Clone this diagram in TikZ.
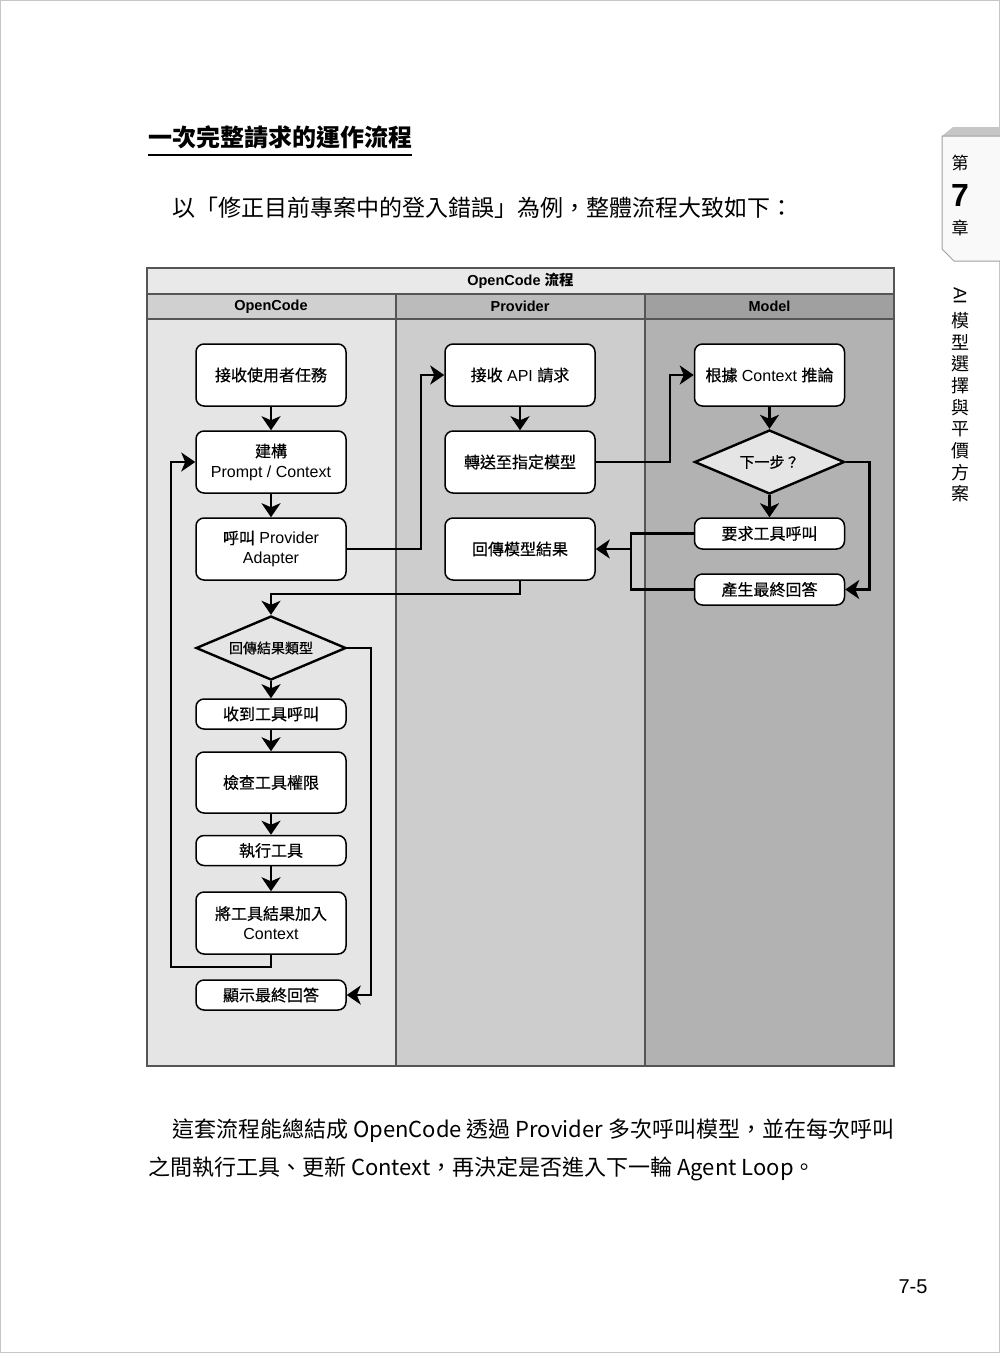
\documentclass[tikz,border=0pt]{standalone}
\usepackage{fontspec}
\setmainfont{Liberation Sans}
\newfontfamily\cjk{Noto Sans CJK TC}
\newfontfamily\cjkn{Noto Sans CJK TC}[FakeBold=0.5]
\usetikzlibrary{shapes.geometric,arrows.meta}
\newcommand\myfs[1]{\fontsize{#1pt}{#1pt}\selectfont}
\newcommand\nodefont{\fontsize{16pt}{20pt}\selectfont}
\newcommand\zh[1]{{\cjkn #1}}
\definecolor{laneA}{HTML}{E5E5E5}
\definecolor{laneB}{HTML}{CDCDCD}
\definecolor{laneC}{HTML}{B2B2B2}
\definecolor{hdrT}{HTML}{E9E9E9}
\definecolor{hdrA}{HTML}{D0D0D0}
\definecolor{hdrB}{HTML}{BBBBBB}
\definecolor{hdrC}{HTML}{A0A0A0}
\definecolor{diaF}{HTML}{E5E5E5}
\definecolor{frameC}{HTML}{555555}
\begin{document}
\begin{tikzpicture}[x=1pt,y=-1pt,
  box/.style={draw, line width=1.5pt, rounded corners=8pt, fill=white,
    minimum width=150pt, minimum height=62pt, align=center, font=\nodefont, inner sep=2pt},
  sbox/.style={box, minimum height=30pt},
  dia/.style={draw, diamond, fill=diaF, line width=2.4pt, minimum width=150pt,
    minimum height=64pt, inner sep=0pt, aspect=2.34, align=center},
  conn/.style={line width=2.5pt, -{Stealth[length=14pt,width=19pt,inset=4pt]}},
  wire/.style={line width=2.5pt},
  hdr/.style={font=\bfseries\myfs{14.5}},
  vch/.style={font=\cjk\myfs{18}}
]
\useasboundingbox (0,0) rectangle (1000,1353);
\fill[white] (0,0) rectangle (1000,1353);
\draw[gray!45, line width=1pt] (0.5,0.5) rectangle (999.5,1352.5);

% title
\node[anchor=west, inner sep=0pt, font=\cjk\bfseries\myfs{24}] (title) at (148,137) {一次完整請求的運作流程};
\draw[line width=2.2pt] (148,155) -- (412,155);
\node[anchor=west, inner sep=0pt, font=\cjk\myfs{23}] (sub) at (172,208) {以「修正目前專案中的登入錯誤」為例，整體流程大致如下：};

% chapter tab
\fill[gray!45] (942,136) -- (953,127) -- (1000,127) -- (1000,136) -- cycle;
\draw[gray!75, fill=gray!5, line width=1pt] (1000,136) -- (942,136) -- (942,249) -- (954,261) -- (1000,261);
\node[font=\cjk\myfs{17}] (t1) at (960,163) {第};
\node[font=\bfseries\myfs{32}] (t2) at (960,195) {7};
\node[font=\cjk\myfs{17}] (t3) at (960,228) {章};
\node[rotate=-90, font=\myfs{18}] (v0) at (960,296) {AI};
\foreach \ch [count=\i from 0] in {模,型,選,擇,與,平,價,方,案}
  \node[vch] (v\ch) at (960,{321+21.6*\i}) {\ch};

% swimlane frame
\fill[laneA] (147,319) rectangle (396,1066);
\fill[laneB] (396,319) rectangle (645,1066);
\fill[laneC] (645,319) rectangle (894,1066);
\fill[hdrT] (147,268) rectangle (894,294);
\fill[hdrA] (147,294) rectangle (396,319);
\fill[hdrB] (396,294) rectangle (645,319);
\fill[hdrC] (645,294) rectangle (894,319);
\draw[frameC, line width=1.2pt] (147,268) rectangle (894,1066);
\draw[frameC, line width=1.2pt] (147,294) -- (894,294) (147,319) -- (894,319)
  (396,294) -- (396,1066) (645,294) -- (645,1066);
\node[hdr] (ht) at (520.5,281) {OpenCode {\cjk 流程}};
\node[hdr] (hA) at (271,306.5) {OpenCode};
\node[hdr] (hB) at (520,306.5) {Provider};
\node[hdr] (hC) at (769.5,306.5) {Model};

% OpenCode lane
\node[box] (n1) at (271,375) {\zh{接收使用者任務}};
\node[box] (n2) at (271,462) {\zh{建構}\\Prompt / Context};
\node[box] (n3) at (271,549) {\zh{呼叫} Provider\\Adapter};
\node[dia, font=\cjkn\myfs{14}] (d1) at (271,648) {回傳結果類型};
\node[sbox] (n4) at (271,714) {\zh{收到工具呼叫}};
\node[box, minimum height=61pt] (n5) at (271,782.5) {\zh{檢查工具權限}};
\node[sbox] (n6) at (271,850.5) {\zh{執行工具}};
\node[box] (n7) at (271,923) {\zh{將工具結果加入}\\Context};
\node[sbox] (n8) at (271,995) {\zh{顯示最終回答}};

% Provider lane
\node[box] (p1) at (520,375) {\zh{接收} API \zh{請求}};
\node[box] (p2) at (520,462) {\zh{轉送至指定模型}};
\node[box] (p3) at (520,549) {\zh{回傳模型結果}};

% Model lane
\node[box] (m1) at (769.5,375) {\zh{根據} Context \zh{推論}};
\node[dia, font=\cjkn\myfs{15}] (md) at (769.5,462) {下一步？};
\node[sbox, minimum height=31pt] (m2) at (769.5,533.5) {\zh{要求工具呼叫}};
\node[sbox, minimum height=31pt] (m3) at (769.5,589.5) {\zh{產生最終回答}};

% connectors
\draw[conn] (n1) -- (n2);
\draw[conn] (n2) -- (n3);
\draw[conn] (n3.east) -- ++(74,0) |- (p1.west);
\draw[conn] (p1) -- (p2);
\draw[conn] (p2.east) -- ++(74,0) |- (m1.west);
\draw[conn] (m1) -- (md);
\draw[conn] (md) -- (m2);
\draw[conn] (md.east) -- ++(24,0) |- (m3.east);
\draw[wire] (m2.west) -- ++(-63,0) coordinate (j) |- (m3.west);
\draw[conn] (j |- p3.east) -- (p3.east);
\draw[conn] (p3.south) -- ++(0,13) -| (d1.north);
\draw[conn] (d1) -- (n4);
\draw[conn] (n4) -- (n5);
\draw[conn] (n5) -- (n6);
\draw[conn] (n6) -- (n7);
\draw[conn] (n7.south) -- ++(0,12) -- ++(-100,0) |- (n2.west);
\draw[conn] (d1.east) -- ++(24,0) |- (n8.east);

% body text
\node[anchor=west, inner sep=0pt, font=\cjk\myfs{22}] (b1) at (172,1131) {這套流程能總結成 OpenCode 透過 Provider 多次呼叫模型，並在每次呼叫};
\node[anchor=west, inner sep=0pt, font=\cjk\myfs{22}] (b2) at (148,1169) {之間執行工具、更新 Context，再決定是否進入下一輪 Agent Loop。};

\node[font=\myfs{20}] (pg) at (913,1287) {7-5};
\end{tikzpicture}
\end{document}
